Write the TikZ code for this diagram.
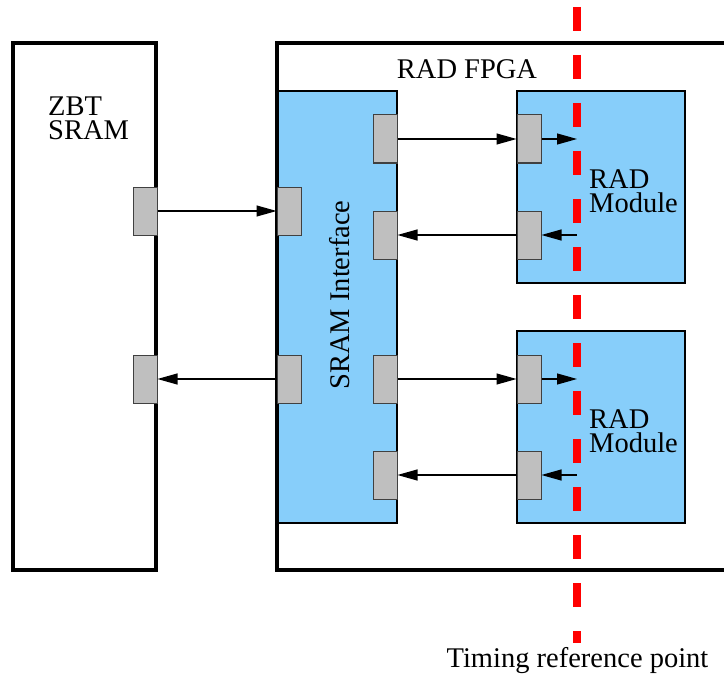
\documentclass[tikz,border=0pt]{standalone}
\usepackage{fontspec}
\setmainfont{Liberation Serif}
\usepackage{tikz}
\usetikzlibrary{arrows.meta, positioning}
\usepackage{xcolor}
\definecolor{radblue}{RGB}{135,206,250}
\definecolor{portgray}{RGB}{191,191,191}

\begin{document}
\begin{tikzpicture}[x=1pt, y=-1pt,
    lbl/.style={font=\fontsize{28.5}{24}\selectfont, inner sep=0pt},
    chip/.style={draw, line width=4.5pt, inner sep=0pt, minimum height=527pt},
    blk/.style={draw, line width=2pt, fill=radblue, inner sep=0pt},
    port/.style={draw=black!75, line width=1pt, fill=portgray,
                 minimum width=24pt, minimum height=48pt, inner sep=0pt},
    conn/.style={line width=1.2pt, -{Triangle[length=20pt, width=11pt]}}]
  \clip (0,0) rectangle (724,677);
  \node[chip, minimum width=143pt] (zbt)  at (84.5,306.5) {};
  \node[chip, minimum width=483pt] (fpga) at (518.5,306.5) {};
  \node[blk, minimum width=119pt, minimum height=432pt] (sramif) at (337.5,307) {};
  \node[blk, minimum width=168pt, minimum height=192pt] (radA) at (601,187) {};
  \node[blk, minimum width=168pt, minimum height=192pt] (radB) at (601,427) {};
  \node[lbl, align=left, anchor=west] (zbtlab) at (48,118) {ZBT\\SRAM};
  \node[lbl, anchor=base] (fpgalab) at (467,79) {RAD FPGA};
  \node[lbl, rotate=90] (iflab) at (339.5,295) {SRAM Interface};
  \node[lbl, align=left, anchor=west] (radAlab) at (589,191) {RAD\\Module};
  \node[lbl, align=left, anchor=west] (radBlab) at (589,431) {RAD\\Module};
  \foreach \n/\x/\y in {zbtA/145/211, zbtB/145/379, ifA/289/211, ifB/289/379,
                        ifC/385/139, ifD/385/235, ifE/385/379, ifF/385/475,
                        radA1/529/139, radA2/529/235, radB1/529/379, radB2/529/475}
    \node[port] (\n) at (\x,\y) {};
  \draw[conn] (zbtA.east) -- (ifA.west);
  \draw[conn] (ifB.west) -- (zbtB.east);
  \draw[conn] (ifC.east) -- (radA1.west);
  \draw[conn] (radA2.west) -- (ifD.east);
  \draw[conn] (ifE.east) -- (radB1.west);
  \draw[conn] (radB2.west) -- (ifF.east);
  \foreach \p/\y in {A1/139, A2/235, B1/379, B2/475}
    \coordinate (t\p) at (577,\y);
  \draw[conn] (radA1.east) -- (tA1);
  \draw[conn] (tA2) -- (radA2.east);
  \draw[conn] (radB1.east) -- (tB1);
  \draw[conn] (tB2) -- (radB2.east);
  \coordinate (reftop) at (577,7);
  \coordinate (refbot) at (577,643);
  \draw[red, line width=7.5pt, dash pattern=on 24pt off 24pt] (reftop) -- (refbot);
  \node[lbl, anchor=base] (reflab) at (577.5,667) {Timing reference point};
\end{tikzpicture}
\end{document}
